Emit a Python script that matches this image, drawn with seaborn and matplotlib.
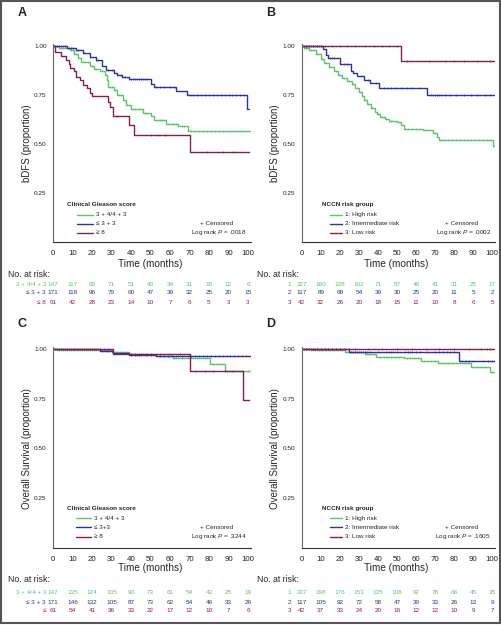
import numpy as np
import pandas as pd
import seaborn as sns
import matplotlib.pyplot as plt
import matplotlib.transforms as mtransforms
from matplotlib.patches import Rectangle

GREEN = "#5cc46c"
BLUE = "#2a2fae"
MAROON = "#8a1c4c"

# ---- step curves: (drop time, survival after drop) ----
# Panel A - bDFS by clinical Gleason score
a_green_t = [0, 3, 8.5, 11, 13, 14.5, 19, 21, 24, 26.5, 27.5, 28, 31.5, 33, 36, 37.6, 40, 46, 50.4, 52, 58, 64, 69, 101]
a_green_s = [1.0, 0.99, 0.978, 0.96, 0.94, 0.92, 0.90, 0.885, 0.873, 0.85, 0.826, 0.79, 0.775, 0.75, 0.725, 0.70, 0.68, 0.66, 0.645, 0.623, 0.603, 0.59, 0.566, 0.566]
a_blue_t = [0, 7, 11.6, 15.5, 19, 22, 25, 27, 31.4, 33, 35.6, 39, 50, 51.7, 62.9, 68.5, 99.5, 100.5]
a_blue_s = [1.0, 0.99, 0.978, 0.963, 0.946, 0.929, 0.90, 0.876, 0.861, 0.853, 0.84, 0.83, 0.806, 0.793, 0.772, 0.75, 0.68, 0.68]
a_maroon_t = [0, 0.9, 4.3, 6.8, 8, 8.9, 10.6, 11.6, 13.7, 15.4, 17.4, 18.8, 20.2, 28.2, 29, 31, 39, 41.4, 70, 100.5]
a_maroon_s = [1.0, 0.97, 0.949, 0.931, 0.91, 0.89, 0.87, 0.843, 0.826, 0.801, 0.784, 0.762, 0.745, 0.716, 0.688, 0.644, 0.598, 0.547, 0.459, 0.459]

# Panel B - bDFS by NCCN risk group
b_green_t = [0, 1, 3.8, 7.3, 9.9, 11.7, 14.3, 16.9, 19, 21.3, 23.9, 26.5, 28.2, 30, 31.7, 32.9, 34.3, 36.1, 38.2, 39.5,
             41.3, 43.9, 45.6, 50, 52.1, 53.5, 63.9, 68.8, 70.9, 71.8, 100.5, 101.5]
b_green_s = [1.0, 0.992, 0.978, 0.958, 0.933, 0.911, 0.891, 0.871, 0.854, 0.837, 0.819, 0.804, 0.787, 0.765, 0.743, 0.723,
             0.703, 0.686, 0.664, 0.651, 0.636, 0.629, 0.619, 0.614, 0.597, 0.576, 0.569, 0.555, 0.535, 0.518, 0.488, 0.488]
b_blue_t = [0, 11.2, 12.5, 14, 19.9, 25.9, 27, 29, 32.5, 36, 40.8, 66, 101.5]
b_blue_s = [1.0, 0.985, 0.955, 0.937, 0.908, 0.874, 0.861, 0.847, 0.826, 0.81, 0.784, 0.75, 0.75]
b_maroon_t = [0, 52, 101.5]
b_maroon_s = [1.0, 0.926, 0.926]

# Panel C - overall survival by clinical Gleason score
c_green_t = [0, 2, 30, 39, 53, 61.5, 80.5, 88, 101.5]
c_green_s = [1.0, 0.993, 0.985, 0.975, 0.965, 0.953, 0.927, 0.89, 0.89]
c_blue_t = [0, 24, 31, 39, 53, 101.5]
c_blue_s = [1.0, 0.99, 0.98, 0.972, 0.966, 0.966]
c_maroon_t = [0, 31, 70, 97.6, 100.5]
c_maroon_s = [1.0, 0.973, 0.89, 0.743, 0.743]

# Panel D - overall survival by NCCN risk group
d_green_t = [0, 5, 22.7, 33, 39, 53.7, 62.4, 71.7, 89, 99, 101.5]
d_green_s = [1.0, 0.995, 0.987, 0.975, 0.961, 0.953, 0.941, 0.928, 0.908, 0.883, 0.883]
d_blue_t = [0, 25, 82.7, 101.5]
d_blue_s = [1.0, 0.987, 0.941, 0.941]
d_maroon_t = [0, 101.5]
d_maroon_s = [1.0, 1.0]

# ---- censored times ----
a_green_c = [1, 2, 3, 4, 5, 6, 7, 9, 10, 12, 16, 18, 20, 22, 25, 29, 30, 32, 34, 35, 38, 42, 44, 47, 48, 54, 55, 56, 57,
             59, 61, 62, 63, 66, 67, 71, 73, 75, 77, 79, 81, 83, 85, 87, 89, 91, 93, 95, 97, 99]
a_blue_c = [1, 2, 3, 4, 5, 6, 8, 9, 10, 12, 13, 16, 19, 22, 23, 28, 30, 33, 35, 37, 39, 40, 41, 42, 43, 44, 45, 46, 47, 48,
            53, 55, 57, 60, 62, 70, 72, 74, 76, 78, 80, 82, 84, 86, 88, 90, 92, 94, 96, 98]
a_maroon_c = [33, 50, 54, 57.5, 79, 87, 92.5]
b_green_c = [1, 2, 3, 5, 6, 8, 10, 13, 15, 18, 20, 22, 25, 27, 29, 31, 33, 35, 37, 40, 42, 44, 46, 47, 48, 51, 54, 56, 58,
             60, 62, 64, 66, 70, 73, 75, 77, 79, 81, 83, 85, 87, 89, 91, 93, 95, 97, 99]
b_blue_c = [1, 2, 3, 4, 5, 6, 7, 8, 9, 10, 15, 16, 17, 22, 24, 27, 31, 35, 39, 43, 45, 47, 49, 52, 55, 58, 62, 68, 69, 70,
            71, 72, 73, 75, 78, 81, 85, 89, 92, 96, 99]
b_maroon_c = [2, 4, 6, 8, 10, 12, 16, 20, 24, 28, 33, 38, 42, 46, 50, 55, 67, 75, 80, 85, 92, 99]
c_green_c = [3, 5, 7, 9, 11, 13, 15, 17, 19, 21, 23, 33, 35, 37, 42, 44, 46, 48, 62, 66, 70, 74, 78, 82, 84, 86, 89, 93, 97, 100]
c_blue_c = [1, 3, 5, 7, 9, 11, 13, 15, 17, 19, 21, 25, 27, 28, 30, 33, 35, 37, 40, 42, 43, 44, 45, 47, 48, 50, 55, 57, 59,
            61, 63, 64, 66, 69, 71, 73, 75, 77, 79, 81, 83, 85, 87, 89, 91, 93, 95, 97, 99]
c_maroon_c = [2, 4, 6, 8, 10, 12, 14, 16, 18, 20, 22, 24, 26, 28, 40, 45, 50, 55, 60, 65, 73, 78, 82, 88, 92]
d_green_c = [3, 5, 7, 9, 11, 13, 15, 17, 19, 21, 24, 26, 28, 34, 35, 36, 37, 38, 41, 43, 45, 47, 49, 51, 55, 57, 59, 61, 64,
             66, 68, 70, 73, 75, 77, 79, 81, 83, 85, 87, 90, 92, 94, 96, 100]
d_blue_c = [1, 2, 3, 4, 5, 6, 7, 8, 10, 12, 14, 16, 18, 20, 26, 27, 28, 29, 30, 31, 32, 33, 34, 36, 40, 44, 46, 47, 48, 50,
            54, 56, 57, 58, 60, 62, 66, 70, 72, 74, 76, 78, 80, 84, 86, 88, 90, 95, 98, 100]
d_maroon_c = [2, 4, 6, 8, 10, 12, 14, 16, 18, 20, 22, 25, 28, 35, 42, 50, 58, 65, 72, 80, 88, 94, 97, 99]

# ---- numbers at risk ----
risk_times = [0, 10, 20, 30, 40, 50, 60, 70, 80, 90, 100]
a_risk_green = [147, 117, 93, 71, 51, 43, 34, 31, 18, 12, 6]
a_risk_blue = [171, 118, 96, 79, 60, 47, 39, 32, 25, 20, 15]
a_risk_maroon = [61, 42, 28, 23, 14, 10, 7, 6, 5, 3, 3]
b_risk_green = [227, 160, 128, 102, 71, 57, 46, 41, 31, 25, 17]
b_risk_blue = [117, 89, 68, 54, 39, 30, 25, 20, 11, 5, 2]
b_risk_maroon = [42, 32, 26, 20, 18, 15, 11, 10, 8, 6, 5]
c_risk_green = [147, 135, 124, 105, 90, 73, 61, 54, 43, 25, 19]
c_risk_blue = [171, 146, 132, 105, 87, 73, 62, 54, 46, 33, 26]
c_risk_maroon = [61, 54, 41, 36, 33, 22, 17, 12, 10, 7, 6]
d_risk_green = [227, 198, 176, 153, 135, 108, 92, 78, 66, 45, 35]
d_risk_blue = [117, 105, 92, 72, 58, 47, 39, 33, 26, 13, 9]
d_risk_maroon = [42, 37, 33, 24, 20, 16, 12, 12, 10, 9, 7]

gleason_legend = ["3 + 4/4 + 3", "\u2264 3 + 3", "\u2265 8"]
gleason_legend_c = ["3 + 4/4 + 3", "\u2264 3+3", "\u2265 8"]
gleason_rows = ["3 + 4/4 + 3", "\u2264 3 + 3", "\u2264 8"]
gleason_rows_c = ["3 + 4/4 + 3", "\u2264 3 + 3", "\u2264"]
nccn_legend = ["1: High risk", "2: Intermediate risk", "3: Low risk"]
nccn_rows = ["1", "2", "3"]

W, H = 501, 625


def fx(px):
    return px / W


def fy(py):
    return 1 - py / H


sns.set_style("white")
plt.rcParams["font.family"] = ["Liberation Sans Narrow", "Liberation Sans", "DejaVu Sans"]
plt.rcParams["mathtext.fontset"] = "custom"
plt.rcParams["mathtext.it"] = "Liberation Sans:italic"

fig = plt.figure(figsize=(W / 100, H / 100), dpi=100)


def draw_panel(left, zero_y, xscale, yscale, curves, censors, legend_title, legend_labels,
               leg_x, leg_line, leg_y, pval, ylabel, letter, rows, risks, risk_row_x, risk_y, label_y):
    width = xscale * 101.5
    height = yscale * 1.01
    ax = fig.add_axes([fx(left), fy(zero_y), width / W, height / H])
    colors = [GREEN, BLUE, MAROON]
    for (t, s), c, col in zip(curves, censors, colors):
        df = pd.DataFrame({"time": t, "surv": s})
        sns.lineplot(data=df, x="time", y="surv", drawstyle="steps-post", estimator=None,
                     sort=False, color=col, lw=1.0, ax=ax)
        idx = np.searchsorted(t, c, side="right") - 1
        ax.plot(c, np.array(s)[idx], "|", color=col, ms=2.0, mew=0.45)
    ax.set_xlim(0, 101.5)
    ax.set_ylim(0, 1.01)
    ax.set_xticks(risk_times)
    ax.set_xticklabels([str(v) for v in risk_times], fontsize=5.7)
    ax.set_yticks([0.25, 0.5, 0.75, 1.0])
    ax.set_yticklabels(["0.25", "0.50", "0.75", "1.00"], fontsize=4.6)
    ax.tick_params(axis="y", length=2.5, width=0.5, pad=2, colors="#222")
    ax.tick_params(axis="x", length=0, pad=6, colors="#222")
    ax.set_xlabel("")
    ax.set_ylabel("")
    for sp in ["top", "right"]:
        ax.spines[sp].set_visible(False)
    ax.spines["left"].set_color("#666")
    ax.spines["bottom"].set_color("#333")
    ax.spines["left"].set_linewidth(0.8)
    ax.spines["bottom"].set_linewidth(0.8)

    # legend drawn by hand
    ax.text(leg_x, leg_y[0], legend_title, fontsize=4.6, fontweight="bold", va="center", ha="left")
    for lab, y, col in zip(legend_labels, leg_y[1:], colors):
        ax.plot(leg_line, [y, y], color=col, lw=1.0)
        ax.text(leg_line[1] + 1.5, y, lab, fontsize=4.6, va="center", ha="left")
    ax.text(84, leg_y[2], "+ Censored", fontsize=4.6, va="center", ha="center")
    ax.text(99.5, leg_y[3], "Log rank $P$ = " + pval, fontsize=4.6, va="center", ha="right")

    cx = left + width / 2 - 2
    fig.text(fx(27 if left < 100 else 275), fy(zero_y - 99), ylabel, rotation=90,
             fontsize=7, ha="center", va="center")
    fig.text(fx(cx), fy(label_y), "Time (months)", fontsize=7.2, ha="center", va="center")
    fig.text(fx(left - 45), fy(label_y + 11), "No. at risk:", fontsize=6.3, ha="left", va="center")
    trans = mtransforms.blended_transform_factory(ax.transData, fig.transFigure)
    for lab, vals, col, ry in zip(rows, risks, colors, risk_y):
        fig.text(fx(risk_row_x), fy(ry), lab, fontsize=4.6, color=col, ha="right", va="center")
        for tx, v in zip(risk_times, vals):
            ax.text(tx, fy(ry), str(v), fontsize=4.6, color=col, ha="center", va="center",
                    transform=trans)
    fig.text(fx(left - 31), fy(zero_y - 229 if zero_y < 300 else zero_y - 224), letter,
             fontsize=9, fontweight="bold", ha="center", va="center")
    return ax


draw_panel(53, 242, 1.95, 196,
           [(a_green_t, a_green_s), (a_blue_t, a_blue_s), (a_maroon_t, a_maroon_s)],
           [a_green_c, a_blue_c, a_maroon_c],
           "Clinical Gleason score", gleason_legend, 7.2, [12.3, 20.5],
           [0.19, 0.138, 0.092, 0.046], ".0018", "bDFS (proportion)", "A",
           gleason_rows, [a_risk_green, a_risk_blue, a_risk_maroon], 46, [284, 293, 302], 264)

draw_panel(301.7, 242, 1.906, 196,
           [(b_green_t, b_green_s), (b_blue_t, b_blue_s), (b_maroon_t, b_maroon_s)],
           [b_green_c, b_blue_c, b_maroon_c],
           "NCCN risk group", nccn_legend, 10.6, [14.8, 21],
           [0.19, 0.138, 0.092, 0.046], ".0002", "bDFS (proportion)", "B",
           nccn_rows, [b_risk_green, b_risk_blue, b_risk_maroon], 291, [284, 293, 302], 264)

draw_panel(53, 547.7, 1.95, 198.7,
           [(c_green_t, c_green_s), (c_blue_t, c_blue_s), (c_maroon_t, c_maroon_s)],
           [c_green_c, c_blue_c, c_maroon_c],
           "Clinical Gleason score", gleason_legend_c, 7, [11.6, 19.5],
           [0.195, 0.148, 0.103, 0.055], ".3244", "Overall Survival (proportion)", "C",
           gleason_rows_c, [c_risk_green, c_risk_blue, c_risk_maroon], 46, [593, 602, 611], 568)

draw_panel(301.7, 547.7, 1.906, 198.7,
           [(d_green_t, d_green_s), (d_blue_t, d_blue_s), (d_maroon_t, d_maroon_s)],
           [d_green_c, d_blue_c, d_maroon_c],
           "NCCN risk group", nccn_legend, 10.5, [14.8, 21],
           [0.195, 0.148, 0.103, 0.055], ".1605", "Overall Survival (proportion)", "D",
           nccn_rows, [d_risk_green, d_risk_blue, d_risk_maroon], 291, [593, 602, 611], 568)

fig.add_artist(Rectangle((0.002, 0.003), 0.996, 0.995, transform=fig.transFigure,
                         fill=False, edgecolor="#555", lw=1.5))

fig.savefig("out.png", dpi=100)
